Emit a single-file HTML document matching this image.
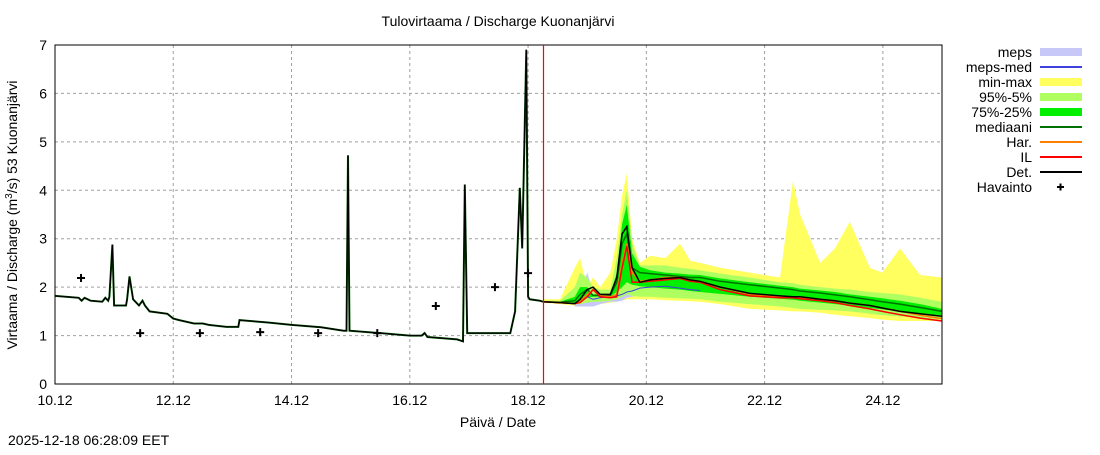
<!DOCTYPE html>
<html><head><meta charset="utf-8"><style>
body{margin:0;background:#fff}
svg{font-family:"Liberation Sans",sans-serif;font-size:14px}
</style></head><body>
<svg id="c" width="1100" height="450"></svg>
<script>
const histT=[0,0.4,0.45,0.5,0.6,0.8,0.85,0.9,0.92,0.97,1.0,1.2,1.22,1.26,1.32,1.42,1.48,1.52,1.6,1.9,2.0,2.1,2.35,2.5,2.6,2.9,3.1,3.12,3.3,3.6,4.0,4.5,4.88,4.93,4.955,4.98,5.5,6.0,6.2,6.25,6.3,6.8,6.9,6.93,6.97,7.7,7.78,7.86,7.9,7.97,8.0,8.03,8.2,8.25];
const histV=[1.82,1.78,1.72,1.78,1.72,1.7,1.78,1.72,1.8,2.88,1.62,1.62,1.75,2.22,1.75,1.62,1.72,1.62,1.5,1.45,1.35,1.32,1.25,1.25,1.22,1.18,1.18,1.32,1.3,1.27,1.22,1.17,1.1,1.1,4.72,1.1,1.05,1.0,1.0,1.05,0.97,0.92,0.88,4.12,1.05,1.05,1.5,4.05,2.8,6.9,1.8,1.75,1.72,1.7];
const fcT=[8.25,8.54,8.79,8.88,9.0,9.1,9.22,9.39,9.5,9.59,9.67,9.76,9.89,10.06,10.32,10.57,10.74,10.91,11.25,11.75,12.26,12.48,12.6,12.94,13.19,13.44,13.78,13.99,14.29,14.63,15.0];
const minMaxHi=[1.75,1.75,2.4,2.6,2.0,2.2,2.0,2.3,3.0,3.9,4.35,3.0,2.5,2.65,2.6,2.9,2.55,2.5,2.4,2.3,2.2,4.2,3.5,2.5,2.8,3.35,2.4,2.3,2.8,2.25,2.2];
const minMaxLo=[1.68,1.65,1.62,1.62,1.65,1.65,1.65,1.68,1.7,1.72,1.75,1.75,1.75,1.75,1.73,1.72,1.71,1.7,1.65,1.55,1.52,1.5,1.5,1.47,1.43,1.4,1.36,1.33,1.3,1.3,1.3];
const p95Hi=[1.72,1.72,2.0,2.3,2.2,2.0,1.95,1.95,2.6,3.5,4.0,2.9,2.45,2.45,2.45,2.4,2.38,2.35,2.28,2.2,2.1,2.08,2.05,2.0,1.97,1.95,1.9,1.88,1.85,1.78,1.7];
const p95Lo=[1.7,1.68,1.65,1.65,1.68,1.7,1.7,1.72,1.75,1.8,1.85,1.82,1.8,1.8,1.78,1.77,1.76,1.75,1.7,1.65,1.6,1.57,1.55,1.53,1.52,1.5,1.45,1.42,1.4,1.37,1.33];
const p75Hi=[1.71,1.7,1.8,2.0,2.0,1.85,1.85,1.85,2.3,3.3,3.7,2.7,2.42,2.35,2.3,2.28,2.26,2.25,2.18,2.1,2.03,2.0,1.97,1.93,1.9,1.85,1.8,1.77,1.72,1.65,1.55];
const p75Lo=[1.7,1.69,1.68,1.7,1.78,1.8,1.8,1.8,1.9,2.0,2.1,2.05,2.02,2.0,1.97,1.95,1.92,1.9,1.86,1.8,1.76,1.74,1.72,1.68,1.65,1.62,1.57,1.54,1.5,1.46,1.42];
const medV=[1.7,1.69,1.72,1.85,1.95,1.83,1.83,1.83,2.1,2.9,3.1,2.4,2.3,2.28,2.25,2.22,2.2,2.2,2.12,2.05,1.98,1.95,1.92,1.88,1.84,1.8,1.74,1.7,1.65,1.58,1.5];
const harV=[1.7,1.68,1.66,1.7,1.85,1.95,1.82,1.8,1.85,2.5,2.9,2.3,2.12,2.15,2.2,2.2,2.15,2.12,2.0,1.85,1.8,1.8,1.78,1.75,1.72,1.67,1.62,1.57,1.5,1.42,1.35];
const ilV=[1.7,1.68,1.66,1.68,1.8,1.95,1.8,1.78,1.8,2.4,2.85,2.1,2.1,2.12,2.15,2.18,2.12,2.1,1.95,1.82,1.78,1.78,1.76,1.72,1.68,1.62,1.55,1.5,1.43,1.36,1.3];
const detV=[1.7,1.68,1.66,1.75,1.95,2.0,1.85,1.85,2.2,3.1,3.25,2.4,2.1,2.15,2.18,2.2,2.15,2.12,2.0,1.87,1.82,1.8,1.8,1.75,1.72,1.67,1.62,1.57,1.5,1.45,1.4];
const mepsT=[8.79,8.88,9.0,9.1,9.22,9.39,9.5,9.59,9.67,9.76,9.89,10.06,10.32,10.57,10.74,10.91];
const mepsHi=[1.75,1.8,2.3,1.9,1.85,1.85,1.9,1.95,2.0,2.05,2.1,2.15,2.1,2.05,2.0,1.95];
const mepsLo=[1.6,1.6,1.6,1.6,1.65,1.7,1.7,1.72,1.78,1.8,1.85,1.85,1.85,1.82,1.82,1.8];
const mepsMed=[1.68,1.7,1.8,1.75,1.78,1.8,1.82,1.85,1.9,1.92,1.98,2.0,2.02,1.98,1.95,1.93];
const obsT=[0.44,1.44,2.45,3.47,4.45,5.45,6.44,7.44,8.0];
const obsV=[2.19,1.05,1.05,1.07,1.05,1.05,1.61,2.0,2.29];
const xLabels=["10.12","12.12","14.12","16.12","18.12","20.12","22.12","24.12"];
const yTicks=[0,1,2,3,4,5,6,7];

const X0=55,X1=942,Y0=384,Y1=45;
const xs=t=>X0+t*(X1-X0)/15, ys=v=>Y0-v*(Y0-Y1)/7;
const svg=document.getElementById('c');const NS='http://www.w3.org/2000/svg';
function mk(tag,attrs,parent){const e=document.createElementNS(NS,tag);for(const k in attrs)e.setAttribute(k,attrs[k]);(parent||svg).appendChild(e);return e;}
function line(T,V){return T.map((t,i)=>xs(t).toFixed(1)+','+ys(V[i]).toFixed(1)).join(' ');}
function band(T,H,L){return line(T,H)+' '+line(T.slice().reverse(),L.slice().reverse());}

yTicks.forEach(v=>{if(v>0&&v<7){const g=mk('line',{x1:X0,x2:X1,y1:ys(v),y2:ys(v),stroke:'#a0a0a0','stroke-dasharray':'3,3'});

}
const t=mk('text',{x:X0-8,y:ys(v)+5,'text-anchor':'end'});t.textContent=v;

});
xLabels.forEach((l,i)=>{const x=xs(i*2);if(i>0){const g=mk('line',{x1:x,x2:x,y1:Y1,y2:Y0,stroke:'#a0a0a0','stroke-dasharray':'3,3'});

}
const t=mk('text',{x:x,y:Y0+21,'text-anchor':'middle'});t.textContent=l;

});

const bands=[[fcT,minMaxHi,minMaxLo,'#ffff60','band-min-max'],[mepsT,mepsHi,mepsLo,'#c8c8f8','band-meps'],[fcT,p95Hi,p95Lo,'#b0ff60','band-95-5'],[fcT,p75Hi,p75Lo,'#00ee00','band-75-25']];
bands.forEach(b=>{const p=mk('polygon',{points:band(b[0],b[1],b[2]),fill:b[3]});

});
const lines=[[mepsT,mepsMed,'#4040e0',1,'meps-med-line'],[histT,histV,'#006000',2,'history-median-line'],[fcT,medV,'#007000',1.5,'median-line'],[fcT,harV,'#ff8000',1.5,'har-line'],[fcT,ilV,'#ff0000',1.5,'il-line'],[histT,histV,'#000',1.3,'observed-history-line'],[fcT,detV,'#000',1.5,'det-line']];
lines.forEach(l=>{const p=mk('polyline',{points:line(l[0],l[1]),fill:'none',stroke:l[2],'stroke-width':l[3]});

});
obsT.forEach((t,i)=>{const x=xs(t),y=ys(obsV[i]);const p=mk('path',{d:`M${x-4},${y}h8M${x},${y-4}v8`,stroke:'#000','stroke-width':2});

});
const fr=mk('rect',{x:X0,y:Y1,width:X1-X0,height:Y0-Y1,fill:'none',stroke:'#000'});


const nl=mk('line',{x1:543.5,x2:543.5,y1:Y1,y2:Y0,stroke:'#ff0000','stroke-width':1.2});



const leg=[['meps','band','#c8c8f8'],['meps-med','line','#4040e0'],['min-max','band','#ffff60'],['95%-5%','band','#b0ff60'],['75%-25%','band','#00ee00'],['mediaani','line','#007000'],['Har.','line','#ff8000'],['IL','line','#ff0000'],['Det.','line','#000'],['Havainto','pt','#000']];
leg.forEach((e,i)=>{const y=52+i*15;const t=mk('text',{x:1032,y:y+5,'text-anchor':'end'});t.textContent=e[0];


let s;if(e[1]=='band')s=mk('rect',{x:1040,y:y-4,width:42,height:8,fill:e[2]});
else if(e[1]=='line')s=mk('line',{x1:1040,x2:1082,y1:y,y2:y,stroke:e[2],'stroke-width':2});
else s=mk('path',{d:`M${1057},${y}h7M${1060.5},${y-3.5}v7`,stroke:'#000','stroke-width':2});

});
function txt(s,a,name){const t=mk('text',a);t.textContent=s;return t;}
txt('Tulovirtaama / Discharge  Kuonanjärvi',{x:498,y:26,'text-anchor':'middle','xml:space':'preserve'},'chart-title');
txt('Päivä / Date',{x:498,y:427,'text-anchor':'middle'},'x-axis-title');
const yt=txt('',{transform:'translate(17,215) rotate(-90)','text-anchor':'middle'},'y-axis-title');
yt.innerHTML='Virtaama / Discharge (m<tspan dy="-5" font-size="10">3</tspan><tspan dy="5">/s)  53 Kuonanjärvi</tspan>';
yt.setAttribute('xml:space','preserve');
txt('2025-12-18 06:28:09 EET',{x:8,y:445},'timestamp');
</script>
</body></html>
